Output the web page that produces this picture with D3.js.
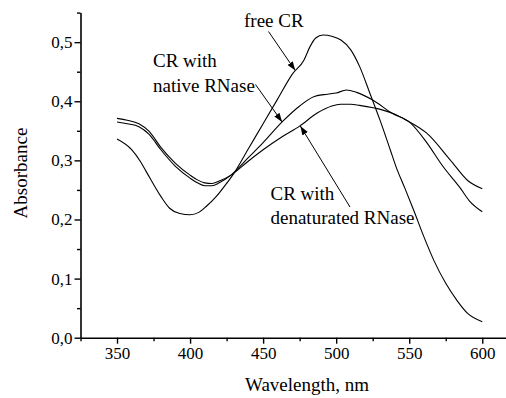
<!DOCTYPE html>
<html>
<head>
<meta charset="utf-8">
<script src="https://cdn.jsdelivr.net/npm/d3@7"></script>
<style>
  html, body { margin: 0; padding: 0; background: #fff; }
</style>
</head>
<body>
<svg id="chart" width="506" height="398" style="font-family:'Liberation Serif'"></svg>
<script>
// ---- data ----
const freeCR_nm  = [350, 360, 366, 370, 380, 386, 393, 400, 406, 411, 418, 425, 430, 440, 450, 460, 470, 478, 482, 486, 491, 497, 503, 510, 516, 523, 530, 537, 541, 547, 553, 560, 567, 575, 583, 590, 600];
const freeCR_abs = [0.336, 0.318, 0.298, 0.281, 0.239, 0.219, 0.210, 0.208, 0.212, 0.222, 0.239, 0.261, 0.278, 0.320, 0.362, 0.404, 0.446, 0.470, 0.492, 0.507, 0.512, 0.510, 0.504, 0.487, 0.459, 0.414, 0.368, 0.318, 0.289, 0.253, 0.216, 0.171, 0.130, 0.092, 0.062, 0.041, 0.027];

const native_nm  = [350, 357, 365, 372, 380, 390, 400, 405, 410, 415, 420, 428, 440, 450, 463, 475, 485, 494, 500, 507, 514, 525, 538, 551, 562, 573, 585, 591, 600];
const native_abs = [0.365, 0.362, 0.357, 0.344, 0.318, 0.290, 0.270, 0.262, 0.257, 0.257, 0.262, 0.275, 0.305, 0.330, 0.365, 0.392, 0.408, 0.412, 0.414, 0.419, 0.415, 0.402, 0.380, 0.363, 0.330, 0.290, 0.253, 0.232, 0.213];

const denat_nm   = [350, 357, 365, 372, 380, 390, 400, 405, 410, 415, 420, 428, 440, 450, 463, 475, 487, 497, 503, 510, 516, 532, 538, 548, 562, 578, 590, 600];
const denat_abs  = [0.371, 0.368, 0.362, 0.349, 0.322, 0.295, 0.275, 0.267, 0.262, 0.261, 0.265, 0.275, 0.299, 0.318, 0.340, 0.358, 0.380, 0.392, 0.395, 0.395, 0.393, 0.385, 0.380, 0.368, 0.346, 0.301, 0.266, 0.252];

const xTicks = [350, 400, 450, 500, 550, 600];
const xMinorTicks = [325, 375, 425, 475, 525, 575, 625];
const yTicks = [0, 0.1, 0.2, 0.3, 0.4, 0.5];
const yMinorTicks = [0.05, 0.15, 0.25, 0.35, 0.45, 0.55];
const yTickLabels = ["0,0", "0,1", "0,2", "0,3", "0,4", "0,5"];

const xTitle = "Wavelength, nm";
const yTitle = "Absorbance";

// ---- drawing ----
const FONT = "'Liberation Serif'";
const svg = d3.select("#chart");
const x = d3.scaleLinear().domain([325, 625]).range([80.5, 518.8]);
const y = d3.scaleLinear().domain([0, 0.55]).range([337.7, 12.6]);

const line = d3.line().x(d => x(d[0])).y(d => y(d[1])).curve(d3.curveMonotoneX);
const series = [
  d3.zip(freeCR_nm, freeCR_abs),
  d3.zip(native_nm, native_abs),
  d3.zip(denat_nm, denat_abs)
];
svg.append("g").selectAll("path").data(series).join("path")
  .attr("d", line)
  .attr("fill", "none")
  .attr("stroke", "#000")
  .attr("stroke-width", 1.1);

// axes
const axes = [];
axes.push(svg.append("g").attr("transform", `translate(0,${y(0)})`)
  .call(d3.axisBottom(x).tickValues(xTicks).tickSize(6).tickPadding(3).tickSizeOuter(0)));
axes.push(svg.append("g").attr("transform", `translate(0,${y(0)})`)
  .call(d3.axisBottom(x).tickValues(xMinorTicks).tickSize(3.5).tickFormat("").tickSizeOuter(0)));
axes[1].select(".domain").remove();
axes.push(svg.append("g").attr("transform", `translate(${x(325)},0)`)
  .call(d3.axisLeft(y).tickValues(yTicks).tickSize(6).tickPadding(2).tickSizeOuter(0)
    .tickFormat((d, i) => yTickLabels[i])));
axes.push(svg.append("g").attr("transform", `translate(${x(325)},0)`)
  .call(d3.axisLeft(y).tickValues(yMinorTicks).tickSize(3.5).tickFormat("").tickSizeOuter(0)));
axes[3].select(".domain").remove();
axes.forEach(a => a.attr("font-family", null).attr("font-size", null));

svg.selectAll(".domain").attr("stroke", "#000").attr("stroke-width", 1.6);
svg.selectAll(".tick line").attr("stroke", "#000").attr("stroke-width", 1.4);
svg.selectAll(".tick text").attr("font-size", 17);

// titles
svg.append("text").attr("x", 307).attr("y", 391).attr("text-anchor", "middle")
  .attr("font-size", 19).text(xTitle);
svg.append("text").attr("transform", "translate(27,173) rotate(-90)").attr("text-anchor", "middle")
  .attr("font-size", 19).text(yTitle);

// arrow marker
svg.append("defs").append("marker")
  .attr("id", "arr").attr("viewBox", "0 0 10 10").attr("refX", 10).attr("refY", 5)
  .attr("markerWidth", 9).attr("markerHeight", 9).attr("markerUnits", "userSpaceOnUse")
  .attr("orient", "auto")
  .append("path").attr("d", "M0,1.5 L10,5 L0,8.5 Z").attr("fill", "#000");

// annotations
const ann = svg.append("g");
const annText = [
  ["free CR", 244, 27], ["CR with", 153, 66.5], ["native RNase", 153, 91.5],
  ["CR with", 270.5, 200], ["denaturated RNase", 270.5, 223.5]
];
ann.selectAll("text").data(annText).join("text")
  .attr("x", d => d[1]).attr("y", d => d[2]).attr("font-size", 19).text(d => d[0]);

const arrows = [
  [[268.5, 31.5], [x(472), y(0.452)]],
  [[255.5, 84.5], [x(463), y(0.365)]],
  [[350, 207], [x(475.5), y(0.358)]]
];
svg.append("g").selectAll("line").data(arrows).join("line")
  .attr("x1", d => d[0][0]).attr("y1", d => d[0][1])
  .attr("x2", d => d[1][0]).attr("y2", d => d[1][1])
  .attr("stroke", "#000").attr("stroke-width", 1)
  .attr("marker-end", "url(#arr)");

// serif face on every text, both as attribute and inline style
svg.selectAll("text").attr("font-family", "Liberation Serif").style("font-family", FONT).attr("fill", "#000");
</script>
</body>
</html>
